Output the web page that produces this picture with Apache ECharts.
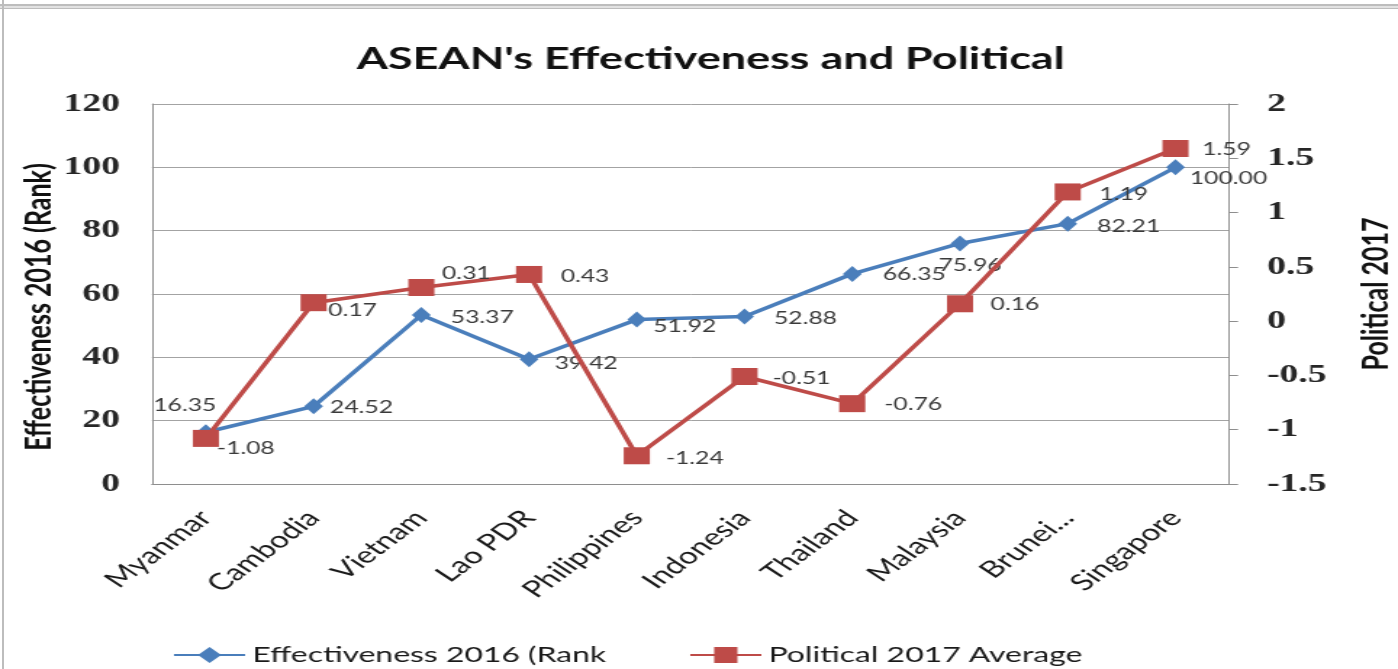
<!DOCTYPE html>
<html>
<head>
<meta charset="utf-8">
<title>ASEAN's Effectiveness and Political</title>
<script src="https://cdn.jsdelivr.net/npm/echarts@6/dist/echarts.min.js"></script>
<style>
  html, body { margin: 0; padding: 0; background: #fff; width: 1398px; height: 669px; overflow: hidden; }
  /* the chart is laid out on a narrower canvas and widened horizontally */
  #chart { position: absolute; left: 0; top: 0; width: 964px; height: 669px; transform: scaleX(1.4502); transform-origin: 0 0; }
  .rule { position: absolute; background: #bdbdbd; }
</style>
</head>
<body>
<div id="chart"></div>
<div class="rule" style="left:0;top:4px;width:1398px;height:1.5px"></div>
<div class="rule" style="left:0;top:5.5px;width:1398px;height:2px;background:#e2e2e2"></div>
<div class="rule" style="left:0;top:7.5px;width:1398px;height:1.5px"></div>
<div class="rule" style="left:2px;top:0;width:2px;height:669px"></div>
<script>
// horizontal widening factor applied to the chart element
const SX = 1398 / 964;

const countries = ['Myanmar', 'Cambodia', 'Vietnam', 'Lao PDR', 'Philippines',
                   'Indonesia', 'Thailand', 'Malaysia', 'Brunei...', 'Singapore'];
const effectiveness2016 = [16.35, 24.52, 53.37, 39.42, 51.92, 52.88, 66.35, 75.96, 82.21, 100.00];
const political2017 = [-1.08, 0.17, 0.31, 0.43, -1.24, -0.51, -0.76, 0.16, 1.19, 1.59];

const seriesNames = ['Effectiveness 2016 (Rank', 'Political 2017 Average'];

// value-label placement relative to each marker (screen px: dx, dy)
const effLabelNudge = [[-21, -27], [48, 1], [61, 3], [57, 4], [48, 7], [61, 2], [62, 1], [10, 22], [61, 3], [53, 11]];
const polLabelNudge = [[40, 10], [39, 8], [45, -14], [56, 2], [58, 3], [57, 2], [61, 1], [55, 1], [56, 3], [51, 1]];

const BLUE = '#4A7EBB';
const RED = '#BE4B48';
const GRID = '#a3a3a3';
const AXIS = '#8e8e8e';

function withLabels(values, nudges) {
  return values.map((v, i) => ({
    value: v,
    label: { offset: [nudges[i][0] / SX, nudges[i][1]] }
  }));
}

const valueLabel = {
  show: true,
  position: 'inside',
  fontFamily: 'Lato',
  fontSize: 17,
  color: '#3a3a3a',
  formatter: p => Number(p.value).toFixed(2)
};

const chart = echarts.init(document.getElementById('chart'), null, { renderer: 'canvas' });

chart.setOption({
  animation: false,
  backgroundColor: '#ffffff',
  title: {
    text: "ASEAN's Effectiveness and Political",
    left: 241,
    top: 38,
    textStyle: { fontFamily: 'Lato', fontWeight: 'bold', fontSize: 31, color: '#111' }
  },
  legend: {
    data: seriesNames,
    left: 114,
    top: 639,
    itemWidth: 49,
    itemHeight: 20,
    itemGap: 57,
    textStyle: { fontFamily: 'Lato', fontSize: 22, color: '#1a1a1a' }
  },
  grid: { left: 104.8, right: 116.3, top: 104, bottom: 185, outerBoundsMode: 'none' },
  xAxis: {
    type: 'category',
    data: countries,
    boundaryGap: true,
    axisLine: { show: true, lineStyle: { color: AXIS, width: 1 } },
    axisTick: { show: false },
    axisLabel: {
      interval: 0,
      rotate: 47,
      margin: 30,
      fontFamily: 'Lato',
      fontSize: 23,
      color: '#1a1a1a'
    }
  },
  yAxis: [
    {
      type: 'value',
      min: 0,
      max: 120,
      interval: 20,
      name: 'Effectiveness 2016 (Rank)',
      nameLocation: 'middle',
      nameRotate: 90,
      nameGap: 65,
      nameMoveOverlap: false,
      nameTextStyle: { fontFamily: 'Lato', fontWeight: 'bold', fontSize: 25, color: '#111', padding: [0, 26, 0, 0] },
      axisLine: { show: true, lineStyle: { color: AXIS, width: 1 } },
      axisTick: { show: false },
      axisLabel: { margin: 22, fontFamily: 'Liberation Serif', fontWeight: 'bold', fontSize: 26, color: '#262626' },
      splitLine: { show: true, lineStyle: { color: GRID, width: 1 } }
    },
    {
      type: 'value',
      position: 'right',
      min: -1.5,
      max: 2,
      interval: 0.5,
      name: 'Political 2017',
      nameLocation: 'middle',
      nameRotate: 90,
      nameGap: 89,
      nameTextStyle: { fontFamily: 'Lato', fontWeight: 'bold', fontSize: 25, color: '#111' },
      axisLine: { show: true, lineStyle: { color: AXIS, width: 1 } },
      axisTick: { show: true, inside: false, length: 6, lineStyle: { color: AXIS } },
      axisLabel: { margin: 26, fontFamily: 'Liberation Serif', fontWeight: 'bold', fontSize: 26, color: '#262626' },
      splitLine: { show: false }
    }
  ],
  series: [
    {
      name: seriesNames[0],
      type: 'line',
      yAxisIndex: 0,
      data: withLabels(effectiveness2016, effLabelNudge),
      symbol: 'diamond',
      symbolSize: [13, 16],
      showAllSymbol: true,
      lineStyle: { color: BLUE, width: 3.5 },
      itemStyle: { color: BLUE },
      label: valueLabel,
      z: 2
    },
    {
      name: seriesNames[1],
      type: 'line',
      yAxisIndex: 1,
      data: withLabels(political2017, polLabelNudge),
      symbol: 'rect',
      symbolSize: [18, 17],
      showAllSymbol: true,
      lineStyle: { color: RED, width: 3.5 },
      itemStyle: { color: RED },
      label: valueLabel,
      z: 3
    }
  ]
});
</script>
</body>
</html>
